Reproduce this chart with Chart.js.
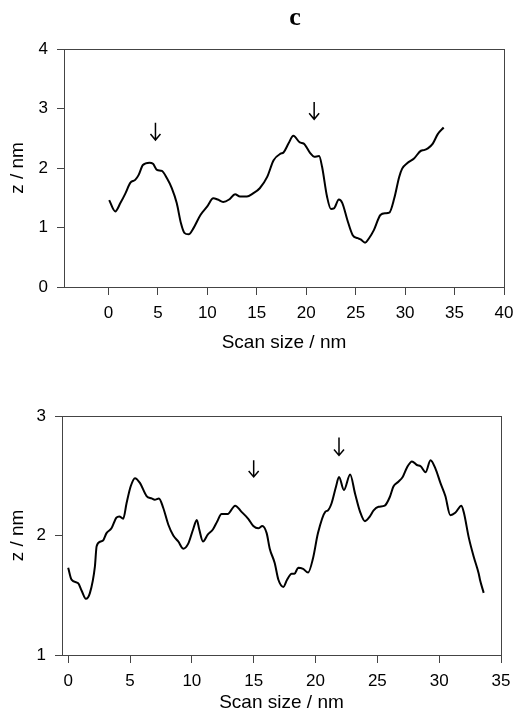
<!DOCTYPE html>
<html>
<head>
<meta charset="utf-8">
<script src="https://cdn.jsdelivr.net/npm/chart.js@4"></script>
<style>
  body { margin: 0; background: #fff; width: 513px; height: 720px; overflow: hidden; position: relative; }
  canvas { position: absolute; left: 0; }
</style>
</head>
<body>
<canvas id="topChart" width="513" height="360" style="top:0"></canvas>
<canvas id="bottomChart" width="513" height="360" style="top:360px"></canvas>
<script>
// upper profile
const topX = [0.07, 0.68, 1.2, 1.7, 2.2, 2.7, 3.04, 3.48, 4.15, 4.5, 4.9, 5.4, 5.9, 6.4, 6.9, 7.33, 7.67, 8.1, 8.6, 9.3,
  9.97, 10.6, 11.05, 11.6, 12.2, 12.8, 13.3, 14.0, 14.6, 15.3, 16.05, 16.7, 17.4, 17.7, 18.2, 18.7, 19.35, 19.75, 20.4, 20.8,
  21.3, 21.6, 22.1, 22.5, 22.8, 23.3, 23.65, 24.15, 24.7, 25.2, 25.5, 25.95, 26.35, 26.85, 27.5, 28.0, 28.4, 28.9, 29.4, 29.7,
  30.2, 30.9, 31.6, 31.9, 32.3, 32.8, 33.3, 33.9];
const topZ = [1.46, 1.27, 1.41, 1.57, 1.75, 1.80, 1.88, 2.05, 2.09, 2.07, 1.97, 1.95, 1.83, 1.66, 1.41, 1.07, 0.91, 0.885, 0.99, 1.21,
  1.35, 1.49, 1.47, 1.43, 1.47, 1.56, 1.52, 1.52, 1.57, 1.66, 1.85, 2.13, 2.24, 2.26, 2.41, 2.54, 2.43, 2.41, 2.25, 2.19,
  2.20, 2.02, 1.52, 1.31, 1.32, 1.47, 1.41, 1.13, 0.87, 0.82, 0.80, 0.745, 0.82, 0.96, 1.21, 1.24, 1.25, 1.49, 1.85, 1.99,
  2.08, 2.16, 2.29, 2.30, 2.33, 2.41, 2.57, 2.68];
const topXTicks = [0, 5, 10, 15, 20, 25, 30, 35, 40];
const topZTicks = [0, 1, 2, 3, 4];
const topArrowX = [4.75, 20.8];
const topArrowStart = [2.76, 3.11];
const topArrowTip = [2.47, 2.82];

// lower profile
const botX = [0, 0.27, 0.81, 1.08, 1.43, 1.76, 2.16, 2.3, 2.62, 2.83, 3.1, 3.5, 3.9, 4.13, 4.45, 4.72, 5.05, 5.4, 5.8, 6.34,
  6.75, 7.0, 7.34, 7.69, 8.1, 8.5, 8.9, 9.3, 9.7, 10.1, 10.4, 10.6, 10.9, 11.3, 11.7, 12.06, 12.4, 12.9, 13.5, 14.0,
  14.56, 14.97, 15.37, 15.7, 16.05, 16.3, 16.7, 17.0, 17.4, 17.7, 18.07, 18.3, 18.6, 19.0, 19.4, 19.8, 20.2, 20.8, 21.0, 21.3,
  21.66, 21.9, 22.3, 22.8, 23.2, 23.6, 24.0, 24.4, 24.7, 25.1, 25.6, 26.0, 26.3, 26.7, 27.05, 27.4, 27.8, 28.2, 28.5, 28.9,
  29.3, 29.7, 30.1, 30.5, 30.9, 31.3, 31.8, 32.0, 32.4, 32.8, 33.2, 33.3, 33.6];
const botZ = [1.73, 1.63, 1.60, 1.54, 1.47, 1.52, 1.74, 1.91, 1.95, 1.96, 2.02, 2.06, 2.15, 2.16, 2.14, 2.27, 2.41, 2.48, 2.44, 2.33,
  2.31, 2.30, 2.31, 2.23, 2.09, 2.00, 1.95, 1.89, 1.93, 2.05, 2.13, 2.05, 1.95, 2.01, 2.05, 2.12, 2.18, 2.18, 2.25, 2.20,
  2.14, 2.08, 2.06, 2.08, 2.02, 1.89, 1.77, 1.63, 1.57, 1.63, 1.68, 1.68, 1.73, 1.72, 1.69, 1.81, 2.02, 2.20, 2.21, 2.27,
  2.41, 2.49, 2.38, 2.51, 2.35, 2.20, 2.12, 2.16, 2.21, 2.24, 2.25, 2.32, 2.41, 2.45, 2.49, 2.57, 2.62, 2.59, 2.58, 2.53,
  2.63, 2.56, 2.44, 2.33, 2.17, 2.19, 2.25, 2.19, 1.98, 1.82, 1.68, 1.63, 1.52];
const botXTicks = [0, 5, 10, 15, 20, 25, 30, 35];
const botZTicks = [1, 2, 3];
const botArrowX = [15.0, 21.9];
const botArrowStart = [2.63, 2.82];
const botArrowTip = [2.49, 2.67];

Chart.defaults.font.family = '"Liberation Sans", Arial, sans-serif';
Chart.defaults.color = '#000';

// frame round the plot area
const boxPlugin = {
  id: 'box',
  beforeDatasetsDraw(chart) {
    const { ctx, chartArea: a } = chart;
    ctx.save();
    ctx.strokeStyle = '#444';
    ctx.lineWidth = 1;
    ctx.strokeRect(Math.round(a.left) + 0.5, Math.round(a.top) + 0.5,
      Math.round(a.right - a.left), Math.round(a.bottom - a.top));
    ctx.restore();
  }
};

// arrows marking features
const arrowPlugin = {
  id: 'arrows',
  afterDatasetsDraw(chart, args, opts) {
    const { ctx, scales } = chart;
    ctx.save();
    ctx.strokeStyle = '#000';
    ctx.lineWidth = 1.5;
    opts.x.forEach((xv, i) => {
      const px = scales.x.getPixelForValue(xv);
      const y0 = scales.y.getPixelForValue(opts.start[i]);
      const y1 = scales.y.getPixelForValue(opts.tip[i]);
      ctx.beginPath();
      ctx.moveTo(px, y0);
      ctx.lineTo(px, y1);
      ctx.moveTo(px - 5, y1 - 6);
      ctx.lineTo(px, y1);
      ctx.lineTo(px + 5, y1 - 6);
      ctx.stroke();
    });
    ctx.restore();
  }
};

const letterPlugin = {
  id: 'letter',
  afterDraw(chart, args, opts) {
    if (!opts.text) return;
    const ctx = chart.ctx;
    ctx.save();
    ctx.font = 'bold 26px "Liberation Serif", "Times New Roman", serif';
    ctx.textAlign = 'center';
    ctx.textBaseline = 'middle';
    ctx.fillStyle = '#000';
    ctx.fillText(opts.text, chart.chartArea.left + 231, 18);
    ctx.restore();
  }
};

function makeChart(id, xs, zs, xTicks, zTicks, xMin, xMax, arrows, letter, box) {
  const xTitle = { display: true, text: 'Scan size / nm', font: { size: 19 }, padding: { top: 0, bottom: 6 } };
  const zTitle = { display: true, text: 'z / nm', font: { size: 19 }, padding: { top: 6, bottom: 0 } };
  return new Chart(document.getElementById(id), {
    type: 'scatter',
    data: {
      datasets: [{
        data: xs.map((v, i) => ({ x: v, y: zs[i] })),
        showLine: true,
        borderColor: '#000',
        borderWidth: 2,
        pointRadius: 0,
        cubicInterpolationMode: 'monotone'
      }]
    },
    options: {
      responsive: false,
      animation: false,
      layout: { padding: { top: box.top, right: box.right, left: 0, bottom: 0 } },
      plugins: {
        legend: { display: false },
        tooltip: { enabled: false },
        arrows: arrows,
        letter: { text: letter }
      },
      scales: {
        x: {
          type: 'linear',
          min: xMin,
          max: xMax,
          afterBuildTicks: s => { s.ticks = xTicks.map(v => ({ value: v })); },
          afterFit: s => { s.height = box.xh; s.paddingLeft = 0; s.paddingRight = 0; },
          grid: { drawOnChartArea: false, tickLength: 8, color: '#444' },
          border: { color: '#444' },
          ticks: { font: { size: 17 }, padding: 8, maxRotation: 0 },
          title: xTitle
        },
        y: {
          type: 'linear',
          min: zTicks[0],
          max: zTicks[zTicks.length - 1],
          afterBuildTicks: s => { s.ticks = zTicks.map(v => ({ value: v })); },
          afterFit: s => { s.width = box.yw; s.paddingTop = 0; s.paddingBottom = 0; },
          grid: { drawOnChartArea: false, tickLength: 7, color: '#444' },
          border: { color: '#444' },
          ticks: { font: { size: 17 }, padding: 9 },
          title: zTitle
        }
      }
    },
    plugins: [boxPlugin, arrowPlugin, letterPlugin]
  });
}

makeChart('topChart', topX, topZ, topXTicks, topZTicks, -4.5, 40,
  { x: topArrowX, start: topArrowStart, tip: topArrowTip }, 'c',
  { top: 49, right: 9, xh: 73, yw: 64 });

makeChart('bottomChart', botX, botZ, botXTicks, botZTicks, -0.5, 35,
  { x: botArrowX, start: botArrowStart, tip: botArrowTip }, '',
  { top: 56, right: 12, xh: 65, yw: 62 });
</script>
</body>
</html>
